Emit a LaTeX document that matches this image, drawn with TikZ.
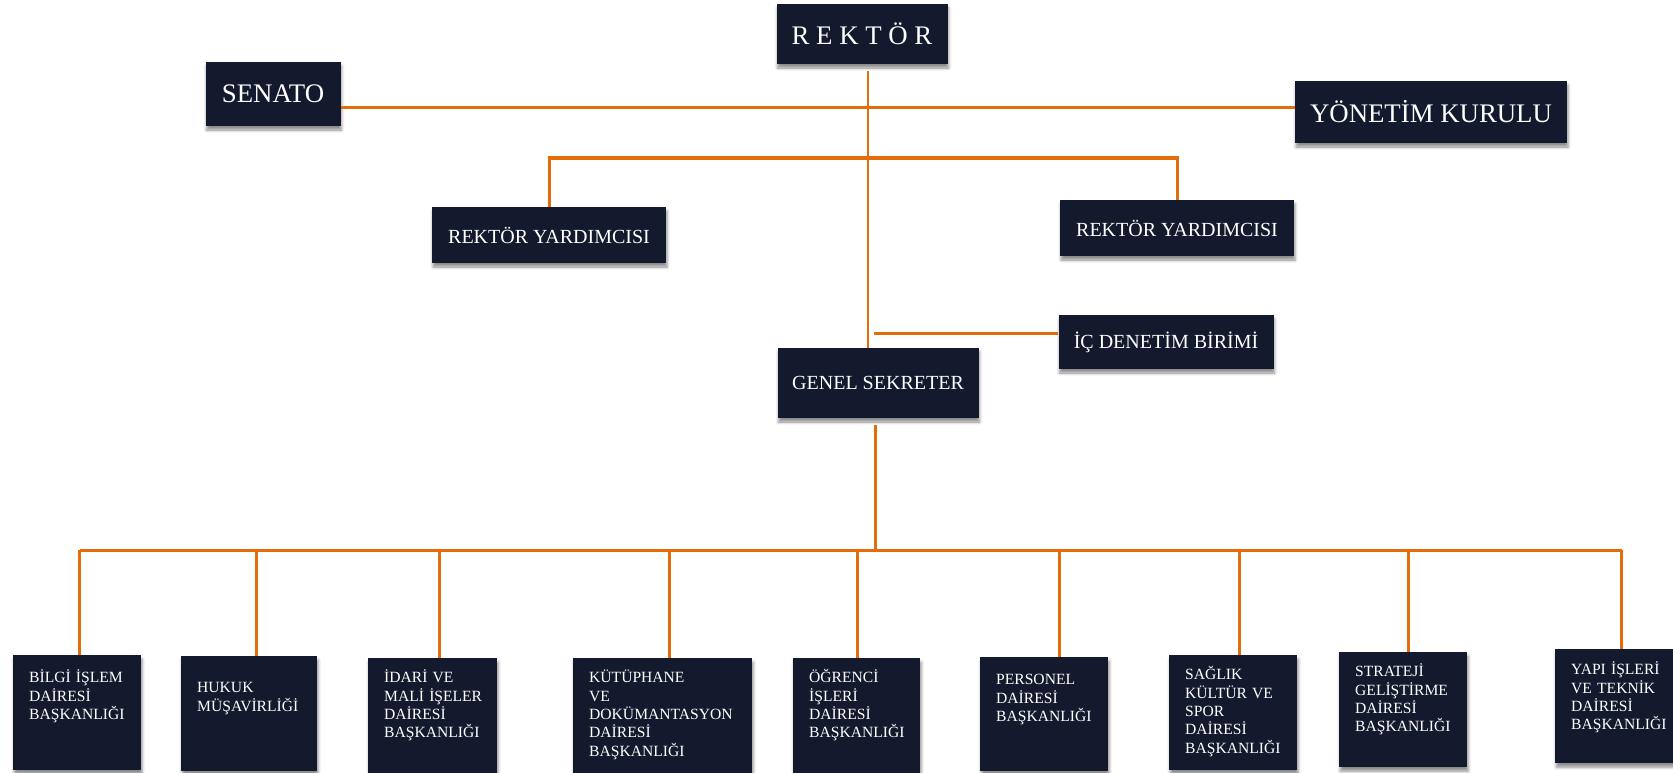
\documentclass[tikz,border=0pt]{standalone}
\usepackage{fontspec}
\setmainfont{Liberation Serif}
\usetikzlibrary{shadows.blur}

\definecolor{boxnavy}{RGB}{20,26,46}
\definecolor{lineorange}{RGB}{228,108,10}
\hyphenpenalty=10000
\exhyphenpenalty=10000

\tikzset{
	box/.style={fill=boxnavy, text=white, inner sep=0pt,
		blur shadow={shadow xshift=1pt, shadow yshift=-4pt, shadow blur radius=3pt, shadow opacity=45}},
	bigbox/.style={box, font=\fontsize{26.8}{30}\selectfont},
	midbox/.style={box, font=\fontsize{20}{24}\selectfont},
	unitbox/.style={box, anchor=north west, align=left, inner xsep=16pt, inner ysep=0pt,
		font=\fontsize{15.6}{18.4}\selectfont},
	link/.style={draw=lineorange, line width=3pt},
}

\begin{document}
\begin{tikzpicture}[x=1pt, y=-1pt]
	\useasboundingbox (0,0) rectangle (1673,773);

	\node[bigbox, minimum width=171pt, minimum height=60pt] (rektor) at (862, 34)     {R E K T Ö R};
	\node[bigbox, minimum width=135pt, minimum height=64pt] (senato) at (273, 94)     {SENATO};
	\node[bigbox, minimum width=272pt, minimum height=62pt] (yk) at (1431, 112)     {YÖNETİM KURULU};
	\node[midbox, minimum width=234pt, minimum height=56pt] (ryl) at (549, 235)     {REKTÖR YARDIMCISI};
	\node[midbox, minimum width=234pt, minimum height=56pt] (ryr) at (1177, 228)     {REKTÖR YARDIMCISI};
	\node[midbox, minimum width=215pt, minimum height=54pt] (ic) at (1166, 342)     {İÇ DENETİM BİRİMİ};
	\node[midbox, minimum width=201pt, minimum height=70pt] (gs) at (878, 383)     {GENEL SEKRETER};

	\node[unitbox, text width=96pt, text height=27.5pt, text depth=87.5pt] (bilgi) at (13, 655)     {BİLGİ~İŞLEM\\DAİRESİ\\BAŞKANLIĞI};
	\node[unitbox, text width=104pt, text height=36.5pt, text depth=78.5pt] (hukuk) at (181, 656)     {HUKUK\\MÜŞAVİRLİĞİ};
	\node[unitbox, text width=97pt, text height=24.5pt, text depth=90.5pt] (idari) at (368, 658)     {İDARİ~VE\\MALİ~İŞELER\\DAİRESİ\\BAŞKANLIĞI};
	\node[unitbox, text width=147pt, text height=24.5pt, text depth=90.5pt] (kutup) at (573, 658)     {KÜTÜPHANE\\VE\\DOKÜMANTASYON\\DAİRESİ\\BAŞKANLIĞI};
	\node[unitbox, text width=95pt, text height=24.5pt, text depth=90.5pt] (ogrenci) at (793, 658)     {ÖĞRENCİ\\İŞLERİ\\DAİRESİ\\BAŞKANLIĞI};
	\node[unitbox, text width=96pt, text height=27.5pt, text depth=86.5pt] (personel) at (980, 657)     {PERSONEL\\DAİRESİ\\BAŞKANLIĞI};
	\node[unitbox, text width=96pt, text height=24.5pt, text depth=90.5pt] (saglik) at (1169, 655)     {SAĞLIK\\KÜLTÜR~VE\\SPOR\\DAİRESİ\\BAŞKANLIĞI};
	\node[unitbox, text width=96pt, text height=24.5pt, text depth=90.5pt] (strateji) at (1339, 652)     {STRATEJİ\\GELİŞTİRME\\DAİRESİ\\BAŞKANLIĞI};
	\node[unitbox, text width=90pt, text height=25.5pt, text depth=88.5pt] (yapi) at (1555, 649)     {YAPI~İŞLERİ\\VE~TEKNİK\\DAİRESİ\\BAŞKANLIĞI};

	\coordinate (mainbar) at (866, 108);
	\coordinate (rtop) at (868, 71);
	\coordinate (rybar) at (868, 158);
	\coordinate (icjoin) at (874, 333);
	\coordinate (bus) at (875, 550);
	\coordinate (busl) at (80, 550);
	\coordinate (busr) at (1622, 550);

	\draw[link] (senato.east |- mainbar) -- (yk.west |- mainbar);
	\draw[link, line width=2.5pt] (rtop) -- (rtop |- gs.north);
	\draw[link] (ryl.north) |- (rybar) -| (ryr.north);
	\draw[link] (icjoin) -- (icjoin -| ic.west);

	\draw[link] ([yshift=-7pt]gs.south -| bus) -- (bus);
	\draw[link] (busl) -- (busr);
	\foreach \x/\n in {79/bilgi, 256/hukuk, 439/idari, 669/kutup, 857/ogrenci, 1059/personel, 1239/saglik, 1408/strateji, 1621/yapi}
		\draw[link] (\x, 550) coordinate (d\n) -- (d\n |- \n.north);

\end{tikzpicture}
\end{document}
